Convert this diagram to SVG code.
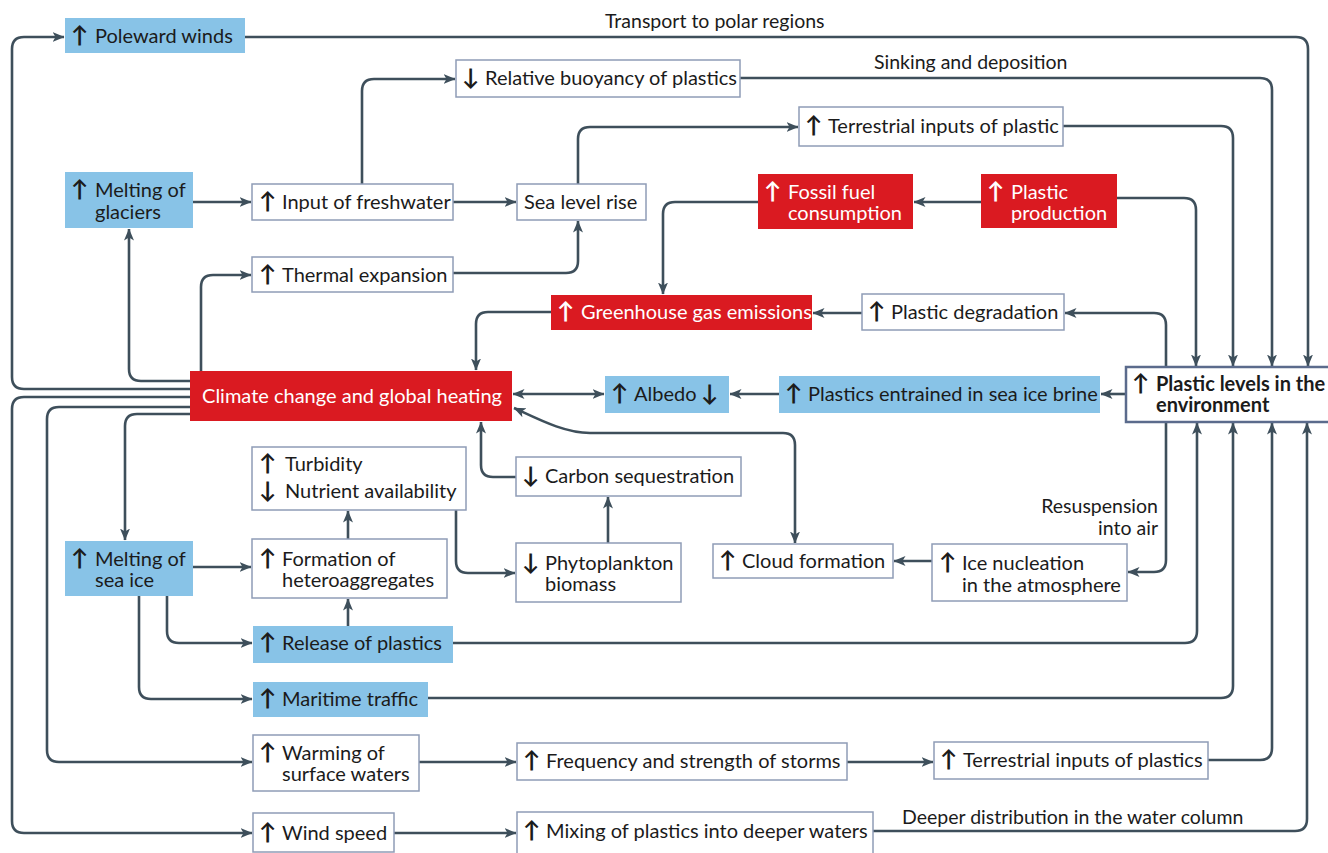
<svg xmlns="http://www.w3.org/2000/svg" width="1328" height="853" viewBox="0 0 1328 853">
<defs>
<marker id="ah" viewBox="0 0 12 12" refX="11.5" refY="6" markerWidth="12" markerHeight="12" markerUnits="userSpaceOnUse" orient="auto-start-reverse">
<path d="M0,1 L12,6 L0,11 L3,6 z" fill="#3e4f5b"/>
</marker>
<style>
.c{fill:none;stroke:#3e4f5b;stroke-width:2.6;marker-end:url(#ah)}
.d{marker-start:url(#ah)}
.w{fill:#fff;stroke:#8f9cb6;stroke-width:1.5}
.b{fill:#88c3e7}
.r{fill:#da1a21}
.p{fill:#fff;stroke:#5b6b8c;stroke-width:2.5}
text{font-family:Lato,"Open Sans","DejaVu Sans",sans-serif;font-size:20px;fill:#1b1b1b}
.a{font-size:23px;font-weight:bold}
.t{fill:#fff}
.bd{font-weight:bold}
.l{font-size:19.5px}
</style>
</defs>
<rect width="1328" height="853" fill="#fff"/>
<g id="connectors">
<path class="c" d="M190 389 H24 Q12 389 12 377 V49 Q12 37 24 37 H64"/>
<path class="c" d="M245 37 H1296 Q1308 37 1308 49 V366"/>
<path class="c" d="M190 381 H141 Q129 381 129 369 V229"/>
<path class="c" d="M201 371 V287 Q201 275 213 275 H251"/>
<path class="c" d="M193 202 H251"/>
<path class="c" d="M362 184 V91 Q362 79 374 79 H455"/>
<path class="c" d="M453 202 H516"/>
<path class="c" d="M453 273 H566 Q578 273 578 261 V221"/>
<path class="c" d="M578 184 V139 Q578 127 590 127 H798"/>
<path class="c" d="M740 78 H1260 Q1272 78 1272 90 V366"/>
<path class="c" d="M1063 126 H1221 Q1233 126 1233 138 V366"/>
<path class="c" d="M1117 198 H1184 Q1196 198 1196 210 V366"/>
<path class="c" d="M981 202 H914"/>
<path class="c" d="M758 202 H675 Q663 202 663 214 V294"/>
<path class="c" d="M862 313 H813"/>
<path class="c" d="M1166 367 V325 Q1166 313 1154 313 H1065"/>
<path class="c" d="M551 312 H488 Q476 312 476 324 V370"/>
<path class="c d" d="M513 394 H604"/>
<path class="c" d="M779 394 H730"/>
<path class="c" d="M1126 394 H1101"/>
<path class="c d" d="M514 408 C540 420 565 433 590 433 H783 Q795 433 795 445 V543"/>
<path class="c" d="M516 477 H493 Q481 477 481 465 V422"/>
<path class="c" d="M608 543 V497"/>
<path class="c" d="M456 510 V561 Q456 573 468 573 H515"/>
<path class="c" d="M348 539 V511"/>
<path class="c" d="M190 414 H137 Q125 414 125 426 V540"/>
<path class="c" d="M193 567 H251"/>
<path class="c" d="M348 626 V599"/>
<path class="c" d="M167 596 V631 Q167 643 179 643 H252"/>
<path class="c" d="M139 596 V687 Q139 699 151 699 H252"/>
<path class="c" d="M453 643 H1185 Q1197 643 1197 631 V423"/>
<path class="c" d="M428 698 H1221 Q1233 698 1233 686 V423"/>
<path class="c" d="M190 407 H59 Q47 407 47 419 V750 Q47 762 59 762 H252"/>
<path class="c" d="M190 397 H24 Q12 397 12 409 V821 Q12 833 24 833 H252"/>
<path class="c" d="M419 762 H516"/>
<path class="c" d="M847 762 H933"/>
<path class="c" d="M1208 760 H1260 Q1272 760 1272 748 V423"/>
<path class="c" d="M394 833 H516"/>
<path class="c" d="M873 831 H1295 Q1307 831 1307 819 V423"/>
<path class="c" d="M1166 422 V560 Q1166 572 1154 572 H1128"/>
<path class="c" d="M932 561 H894"/>
<text class="l" x="605" y="28">Transport to polar regions</text>
<text class="l" x="874" y="69">Sinking and deposition</text>
<text class="l" x="1158" y="513" text-anchor="end">Resuspension</text>
<text class="l" x="1158" y="535" text-anchor="end">into air</text>
<text class="l" x="902" y="824">Deeper distribution in the water column</text>
</g>
<g id="poleward"><rect class="b" x="65" y="18" width="180" height="35"/><text y="43"><tspan class="a" x="71">↑</tspan><tspan x="95">Poleward winds</tspan></text></g>
<g id="buoyancy"><rect class="w" x="456" y="60" width="284" height="37"/><text y="85"><tspan class="a" x="462">↓</tspan><tspan x="485">Relative buoyancy of plastics</tspan></text></g>
<g id="terrestrial1"><rect class="w" x="799" y="107" width="264" height="39"/><text y="133"><tspan class="a" x="805">↑</tspan><tspan x="828">Terrestrial inputs of plastic</tspan></text></g>
<g id="glaciers"><rect class="b" x="65" y="172" width="128" height="56"/><text y="197"><tspan class="a" x="71">↑</tspan><tspan x="95">Melting of</tspan><tspan x="95" y="219">glaciers</tspan></text></g>
<g id="freshwater"><rect class="w" x="252" y="184" width="201" height="36"/><text y="209"><tspan class="a" x="259">↑</tspan><tspan x="282">Input of freshwater</tspan></text></g>
<g id="sealevel"><rect class="w" x="517" y="184" width="129" height="36"/><text x="524" y="209">Sea level rise</text></g>
<g id="fossil"><rect class="r" x="758" y="174" width="155" height="55"/><text class="t" y="199"><tspan class="a" x="764">↑</tspan><tspan x="788">Fossil fuel</tspan><tspan x="788" y="220">consumption</tspan></text></g>
<g id="production"><rect class="r" x="981" y="174" width="136" height="54"/><text class="t" y="199"><tspan class="a" x="987">↑</tspan><tspan x="1011">Plastic</tspan><tspan x="1011" y="220">production</tspan></text></g>
<g id="thermal"><rect class="w" x="252" y="257" width="201" height="35"/><text y="282"><tspan class="a" x="259">↑</tspan><tspan x="282">Thermal expansion</tspan></text></g>
<g id="ghg"><rect class="r" x="551" y="295" width="261" height="35"/><text class="t" y="319"><tspan class="a" x="557">↑</tspan><tspan x="581">Greenhouse gas emissions</tspan></text></g>
<g id="degradation"><rect class="w" x="862" y="294" width="202" height="36"/><text y="319"><tspan class="a" x="868">↑</tspan><tspan x="891">Plastic degradation</tspan></text></g>
<g id="climate"><rect class="r" x="190" y="371" width="322" height="50"/><text class="t" x="352" y="403" text-anchor="middle">Climate change and global heating</text></g>
<g id="albedo"><rect class="b" x="605" y="376" width="124" height="37"/><text y="401"><tspan class="a" x="611">↑</tspan><tspan x="634">Albedo</tspan><tspan class="a" x="701">↓</tspan></text></g>
<g id="brine"><rect class="b" x="779" y="376" width="321" height="37"/><text y="401"><tspan class="a" x="785">↑</tspan><tspan x="808">Plastics entrained in sea ice brine</tspan></text></g>
<g id="levels"><rect class="p" x="1126" y="367" width="210" height="55"/><text class="bd" y="391"><tspan class="a" x="1132">↑</tspan><tspan x="1156">Plastic levels in the</tspan><tspan x="1156" y="412">environment</tspan></text></g>
<g id="turbidity"><rect class="w" x="252" y="447" width="214" height="63"/><text y="471"><tspan class="a" x="259">↑</tspan><tspan x="285">Turbidity</tspan><tspan class="a" x="259" y="498">↓</tspan><tspan x="285" y="498">Nutrient availability</tspan></text></g>
<g id="carbon"><rect class="w" x="516" y="457" width="225" height="39"/><text y="483"><tspan class="a" x="522">↓</tspan><tspan x="545">Carbon sequestration</tspan></text></g>
<g id="seaice"><rect class="b" x="65" y="541" width="128" height="55"/><text y="566"><tspan class="a" x="71">↑</tspan><tspan x="95">Melting of</tspan><tspan x="95" y="587">sea ice</tspan></text></g>
<g id="heteroagg"><rect class="w" x="252" y="539" width="195" height="59"/><text y="566"><tspan class="a" x="259">↑</tspan><tspan x="282">Formation of</tspan><tspan x="282" y="587">heteroaggregates</tspan></text></g>
<g id="phyto"><rect class="w" x="516" y="543" width="165" height="59"/><text y="570"><tspan class="a" x="522">↓</tspan><tspan x="545">Phytoplankton</tspan><tspan x="545" y="591">biomass</tspan></text></g>
<g id="cloud"><rect class="w" x="713" y="544" width="180" height="34"/><text y="568"><tspan class="a" x="719">↑</tspan><tspan x="742">Cloud formation</tspan></text></g>
<g id="icenuc"><rect class="w" x="932" y="544" width="195" height="57"/><text y="570"><tspan class="a" x="939">↑</tspan><tspan x="962">Ice nucleation</tspan><tspan x="962" y="592">in the atmosphere</tspan></text></g>
<g id="release"><rect class="b" x="253" y="626" width="200" height="37"/><text y="650"><tspan class="a" x="259">↑</tspan><tspan x="282">Release of plastics</tspan></text></g>
<g id="maritime"><rect class="b" x="253" y="682" width="175" height="35"/><text y="706"><tspan class="a" x="259">↑</tspan><tspan x="282">Maritime traffic</tspan></text></g>
<g id="warming"><rect class="w" x="253" y="735" width="166" height="56"/><text y="760"><tspan class="a" x="259">↑</tspan><tspan x="282">Warming of</tspan><tspan x="282" y="781">surface waters</tspan></text></g>
<g id="storms"><rect class="w" x="517" y="743" width="330" height="37"/><text y="768"><tspan class="a" x="523">↑</tspan><tspan x="546">Frequency and strength of storms</tspan></text></g>
<g id="terrestrial2"><rect class="w" x="934" y="742" width="274" height="37"/><text y="767"><tspan class="a" x="940">↑</tspan><tspan x="963">Terrestrial inputs of plastics</tspan></text></g>
<g id="wind"><rect class="w" x="253" y="813" width="141" height="39"/><text y="840"><tspan class="a" x="259">↑</tspan><tspan x="282">Wind speed</tspan></text></g>
<g id="mixing"><rect class="w" x="517" y="812" width="356" height="45"/><text y="838"><tspan class="a" x="523">↑</tspan><tspan x="546">Mixing of plastics into deeper waters</tspan></text></g>
</svg>
